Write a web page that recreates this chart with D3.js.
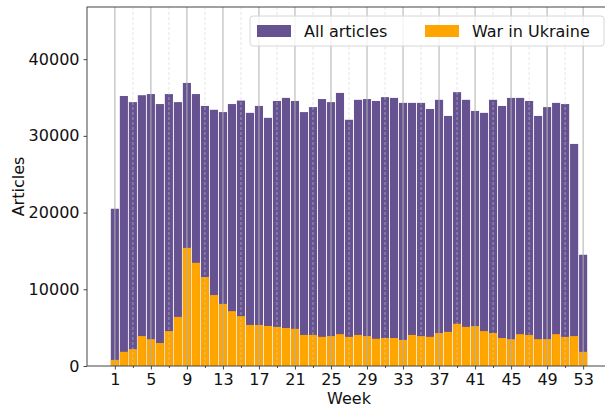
<!DOCTYPE html>
<html>
<head>
<meta charset="utf-8">
<script src="https://cdn.jsdelivr.net/npm/d3@7"></script>
<style>
  body { margin: 0; background: #fff; }
  svg { display: block; font-family: "DejaVu Sans", sans-serif; }
</style>
</head>
<body>
<div id="chart"></div>
<script>
const weeks = d3.range(1, 54);
const allArticles = [
  20500, 35200, 34400, 35300, 35450, 34150, 35450, 34400, 36900, 35450,
  33900, 33400, 33100, 34150, 34600, 33000, 33900, 32350, 34550, 34950,
  34550, 33100, 33750, 34800, 34400, 35600, 32100, 34700, 34800, 34550,
  35050, 34950, 34300, 34300, 34300, 33500, 34700, 32600, 35700, 34700,
  33250, 33000, 34700, 33900, 34950, 34950, 34550, 32600, 33750, 34300,
  34150, 28950, 14500
];
const warUkraine = [
  800, 1850, 2200, 3900, 3500, 3000, 4550, 6400, 15400, 13450,
  11600, 9250, 8100, 7150, 6500, 5350, 5350, 5220, 5100, 4950,
  4850, 4050, 4050, 3800, 3900, 4150, 3800, 4050, 3900, 3550,
  3650, 3650, 3400, 4050, 3900, 3800, 4300, 4450, 5500, 5100,
  5200, 4550, 4300, 3650, 3500, 4150, 4050, 3500, 3500, 4150,
  3800, 3900, 1850
];
const yTicks = [0, 10000, 20000, 30000, 40000];
const xMajor = d3.range(1, 54, 4);
const xMinor = d3.range(3, 54, 4);
const seriesNames = ["All articles", "War in Ukraine"];
const colors = ["#665191", "#ffa500"];

const W = 605, H = 409;
const margin = {left: 87, top: 7, right: -6, bottom: 43};
const iw = W - margin.left - margin.right;
const ih = H - margin.top - margin.bottom;

const svg = d3.select("#chart").append("svg")
  .attr("width", W).attr("height", H);

const g = svg.append("g").attr("transform", `translate(${margin.left},${margin.top})`);

// matplotlib-like x limits: bar extent plus 5% margin
const lo = 0.55, hi = 53.45, pad = (hi - lo) * 0.05;
const x = d3.scaleLinear().domain([lo - pad, hi + pad]).range([0, iw]);
const y = d3.scaleLinear().domain([0, 46800]).range([ih, 0]);
const bw = x(0.9) - x(0);

// bars
g.selectAll("rect.all").data(weeks).join("rect")
  .attr("class", "all")
  .attr("x", d => x(d - 0.45)).attr("width", bw)
  .attr("y", (d, i) => y(allArticles[i]))
  .attr("height", (d, i) => ih - y(allArticles[i]))
  .attr("fill", colors[0]);

g.selectAll("rect.war").data(weeks).join("rect")
  .attr("class", "war")
  .attr("x", d => x(d - 0.45)).attr("width", bw)
  .attr("y", (d, i) => y(warUkraine[i]))
  .attr("height", (d, i) => ih - y(warUkraine[i]))
  .attr("fill", colors[1]);

// vertical grid on top of bars
g.selectAll("line.gmaj").data(xMajor).join("line")
  .attr("x1", d => x(d)).attr("x2", d => x(d))
  .attr("y1", 0).attr("y2", ih)
  .attr("stroke", "#b0b0b0").attr("stroke-opacity", 0.85).attr("stroke-width", 1.2);
g.selectAll("line.gmin").data(xMinor).join("line")
  .attr("x1", d => x(d)).attr("x2", d => x(d))
  .attr("y1", 0).attr("y2", ih)
  .attr("stroke", "#d0d0d0").attr("stroke-opacity", 0.7).attr("stroke-width", 0.8)
  .attr("stroke-dasharray", "3,2");

// axes
const xAxis = g.append("g").attr("transform", `translate(0,${ih})`)
  .call(d3.axisBottom(x).tickValues(xMajor).tickSize(3.5).tickPadding(4).tickFormat(d3.format("d")));
const xMinAxis = g.append("g").attr("transform", `translate(0,${ih})`)
  .call(d3.axisBottom(x).tickValues(xMinor).tickSize(2).tickFormat(""));
const yAxis = g.append("g")
  .call(d3.axisLeft(y).tickValues(yTicks).tickSize(3.5).tickPadding(4).tickFormat(d3.format("d")));

[xAxis, xMinAxis, yAxis].forEach(a => {
  a.select(".domain").remove();
  a.selectAll(".tick line").attr("stroke", "#333").attr("stroke-width", 0.9);
  a.selectAll("text").attr("fill", "#111").style("font-size", "16px")
    .style("font-family", "DejaVu Sans, sans-serif");
});

// spines
g.append("rect").attr("x", 0).attr("y", 0).attr("width", iw).attr("height", ih)
  .attr("fill", "none").attr("stroke", "#444").attr("stroke-width", 1);

// labels
svg.append("text").attr("x", margin.left + x(27)).attr("y", 404)
  .attr("text-anchor", "middle").style("font-size", "16px").attr("fill", "#111").text("Week");
svg.append("text").attr("transform", `translate(24,${margin.top + ih / 2}) rotate(-90)`)
  .attr("text-anchor", "middle").style("font-size", "16px").attr("fill", "#111").text("Articles");

// legend
const lg = svg.append("g").attr("transform", "translate(250,16)");
lg.append("rect").attr("x", 0).attr("y", 0).attr("width", 354).attr("height", 30).attr("rx", 3)
  .attr("fill", "#fff").attr("fill-opacity", 0.8).attr("stroke", "#d6d6d6");
const items = [{x: 7, tx: 54}, {x: 175, tx: 222}];
seriesNames.forEach((n, i) => {
  lg.append("rect").attr("x", items[i].x).attr("y", 9).attr("width", 34).attr("height", 12)
    .attr("fill", colors[i]);
  lg.append("text").attr("x", items[i].tx).attr("y", 21).style("font-size", "16px")
    .attr("fill", "#111").text(n);
});
</script>
</body>
</html>
